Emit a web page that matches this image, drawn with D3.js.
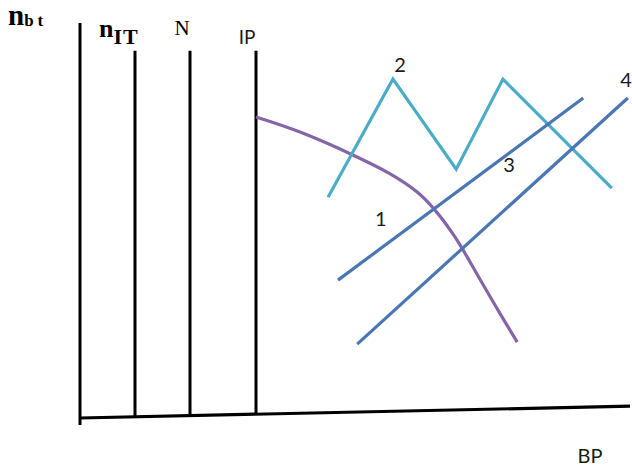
<!DOCTYPE html>
<html>
<head>
<meta charset="utf-8">
<script src="https://cdn.jsdelivr.net/npm/d3@7"></script>
<style>
  body { margin: 0; background: #fff; }
  svg { display: block; }
</style>
</head>
<body>
<svg id="chart" width="632" height="470"></svg>
<script>
// schematic units: x 0..10 along BP, y 0..10 up the axis
const markerNames = ["nIT", "N", "IP"];
const markerX = [1.0, 2.0, 3.2];
const markerTop = 9.3;

const axisTop = 10;
const axisBottom = -0.18;
const baselineX = [0, 10];
const baselineY = [0, 0.3];

// curve 1 (purple)
const curve1X = [3.20, 4.00, 4.96, 5.64, 6.13, 6.45, 6.82, 7.24, 7.60, 7.95];
const curve1Y = [7.62, 7.24, 6.66, 6.18, 5.72, 5.27, 4.58, 3.59, 2.73, 1.92];
// curve 2 (teal zigzag)
const curve2X = [4.51, 5.69, 6.84, 7.69, 9.67];
const curve2Y = [5.59, 8.58, 6.30, 8.58, 5.82];
// lines 3 and 4 (blue)
const line3X = [4.69, 9.15];
const line3Y = [3.49, 8.10];
const line4X = [5.04, 9.96];
const line4Y = [1.87, 8.10];

const curveLabels = ["1", "2", "3", "4"];
const curveLabelX = [5.47, 5.82, 7.80, 9.93];
const curveLabelY = [5.04, 8.94, 6.41, 8.56];

const svg = d3.select("#chart");

const x = d3.scaleLinear().domain([0, 10]).range([80, 630]);
const y = d3.scaleLinear().domain([0, 10]).range([418, 23]);
const baseAt = d3.scaleLinear().domain(baselineX).range(baselineY);

const line = d3.line()
    .x(d => x(d[0]))
    .y(d => y(d[1]));

const zip = (xs, ys) => xs.map((v, i) => [v, ys[i]]);

// vertical axis
svg.append("path")
    .attr("d", line([[0, axisBottom], [0, axisTop]]))
    .attr("stroke", "#000")
    .attr("stroke-width", 3)
    .attr("fill", "none");

// baseline
svg.append("path")
    .attr("d", line(zip(baselineX, baselineY)))
    .attr("stroke", "#000")
    .attr("stroke-width", 3.2)
    .attr("fill", "none");

// marker verticals
svg.append("g")
    .selectAll("path")
    .data(markerX)
    .join("path")
    .attr("d", d => line([[d, baseAt(d)], [d, markerTop]]))
    .attr("stroke", "#000")
    .attr("stroke-width", 3)
    .attr("fill", "none");

const series = [
    { pts: zip(curve1X, curve1Y), color: "#8466a8", curve: d3.curveCatmullRom },
    { pts: zip(curve2X, curve2Y), color: "#4bacc6", curve: d3.curveLinear },
    { pts: zip(line3X, line3Y), color: "#4a77b4", curve: d3.curveLinear },
    { pts: zip(line4X, line4Y), color: "#4a77b4", curve: d3.curveLinear }
];

svg.append("g")
    .selectAll("path")
    .data(series)
    .join("path")
    .attr("d", d => line.curve(d.curve)(d.pts))
    .attr("stroke", d => d.color)
    .attr("stroke-width", 3.2)
    .attr("stroke-linejoin", "miter")
    .attr("fill", "none");

// curve numbers
svg.append("g")
    .selectAll("text")
    .data(curveLabels)
    .join("text")
    .attr("x", (d, i) => x(curveLabelX[i]))
    .attr("y", (d, i) => y(curveLabelY[i]) + 7)
    .attr("text-anchor", "middle")
    .style("font-family", "Lato, 'Open Sans', sans-serif")
    .style("font-size", "20px")
    .style("fill", "#1a1a1a")
    .text(d => d);

// axis / marker labels
const serif = "'Liberation Serif', 'DejaVu Serif', serif";

let nbt = svg.append("text")
    .attr("x", 8).attr("y", 25)
    .style("font-family", serif)
    .style("font-weight", "bold")
    .style("font-size", "29px");
nbt.append("tspan").text("n");
nbt.append("tspan")
    .attr("dy", 1)
    .style("font-size", "17px")
    .attr("letter-spacing", 4)
    .text("bt");

let nit = svg.append("text")
    .attr("x", 99).attr("y", 37)
    .style("font-family", serif)
    .style("font-weight", "bold")
    .style("font-size", "26px");
nit.append("tspan").text("n");
nit.append("tspan")
    .attr("dy", 7)
    .style("font-size", "22px")
    .attr("letter-spacing", 1)
    .text("IT");

svg.append("text")
    .attr("x", 182).attr("y", 35)
    .attr("text-anchor", "middle")
    .style("font-family", serif)
    .style("font-size", "21px")
    .text("N");

svg.append("text")
    .attr("x", 247).attr("y", 44)
    .attr("text-anchor", "middle")
    .style("font-family", "Lato, 'Open Sans', sans-serif")
    .style("font-size", "19px")
    .style("fill", "#1a1a1a")
    .text("IP");

svg.append("text")
    .attr("x", 590).attr("y", 463)
    .attr("text-anchor", "middle")
    .style("font-family", "Lato, 'Open Sans', sans-serif")
    .style("font-size", "20px")
    .style("fill", "#1a1a1a")
    .text("BP");
</script>
</body>
</html>
